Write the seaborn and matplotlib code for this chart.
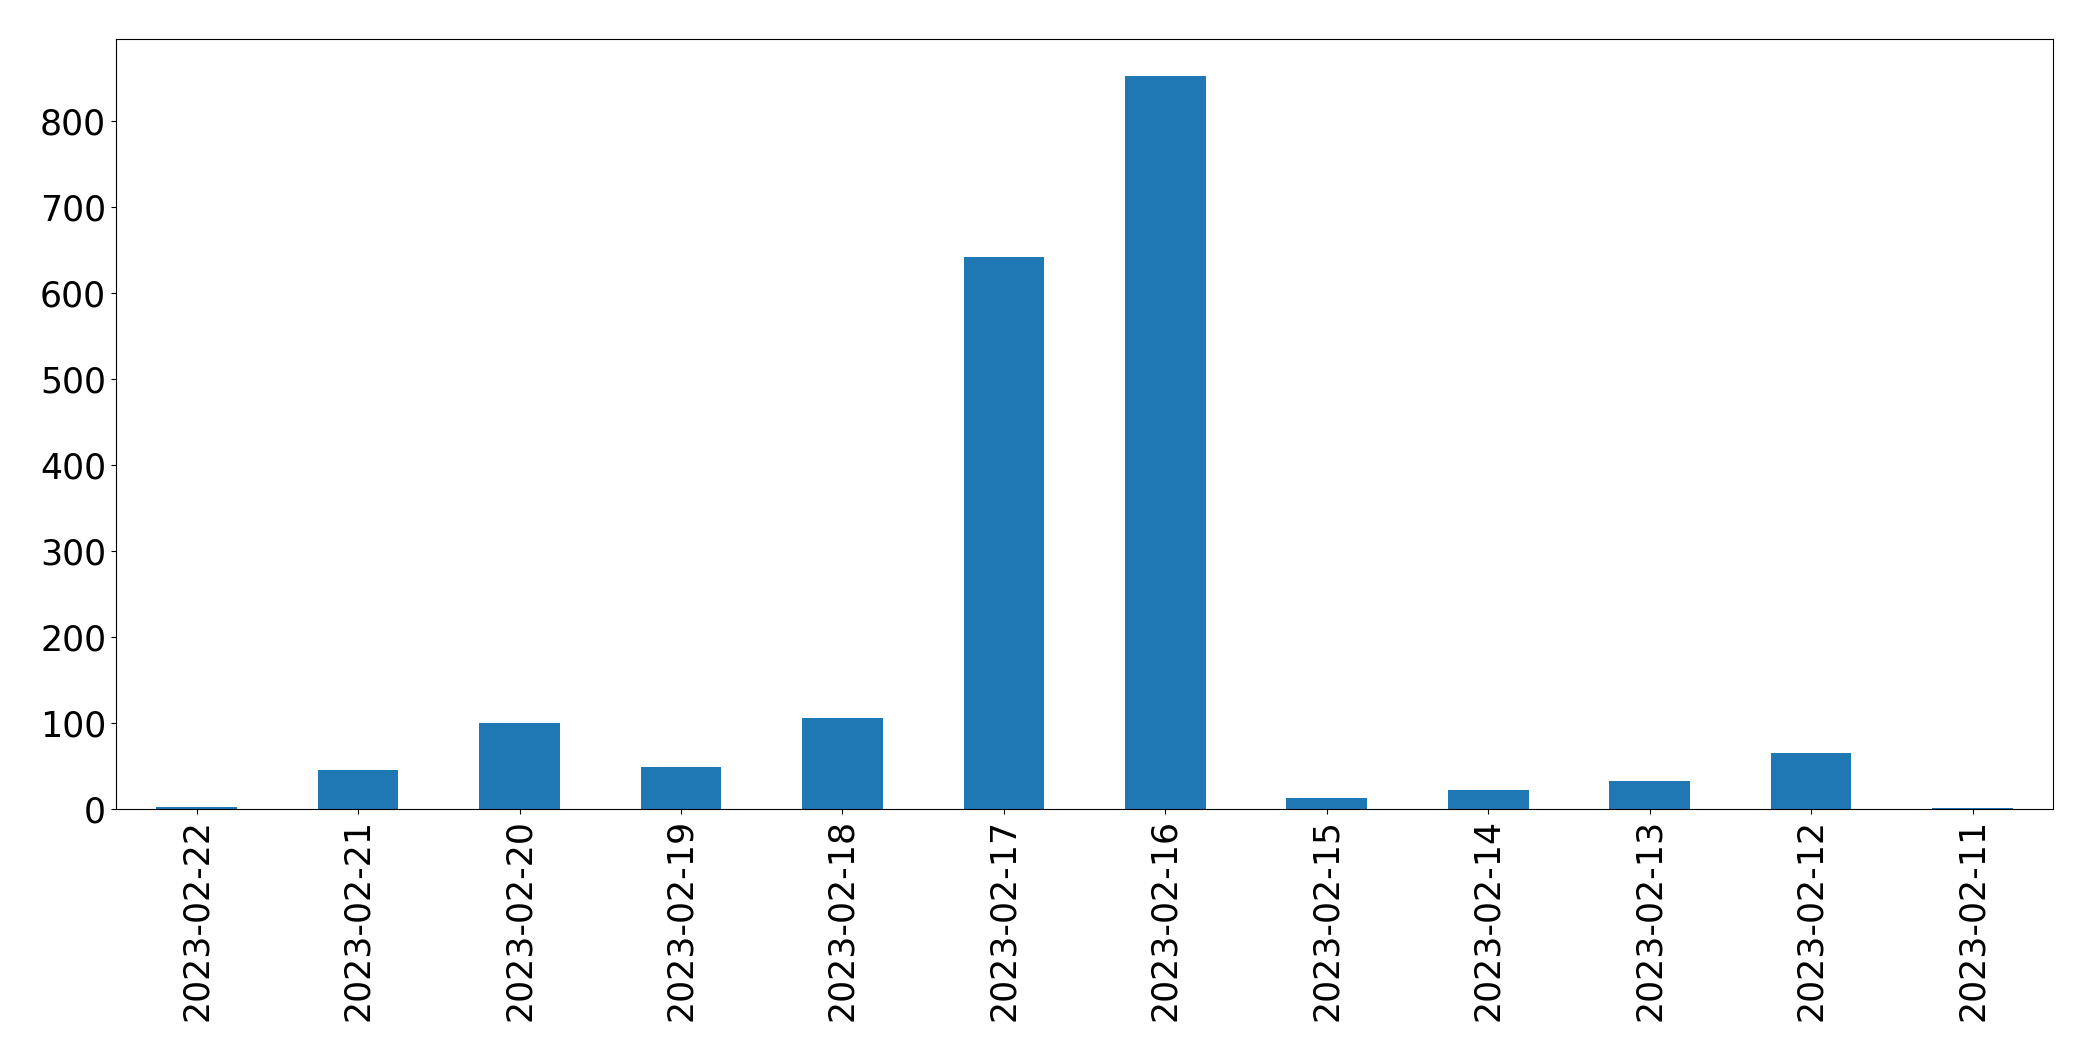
import matplotlib
matplotlib.use('Agg')
import matplotlib.pyplot as plt
import seaborn as sns
import pandas as pd

dates = ['2023-02-22', '2023-02-21', '2023-02-20', '2023-02-19', '2023-02-18',
         '2023-02-17', '2023-02-16', '2023-02-15', '2023-02-14', '2023-02-13',
         '2023-02-12', '2023-02-11']
counts = [2, 45, 100, 49, 106, 641, 852, 13, 22, 33, 65, 1]

df = pd.DataFrame({'date': dates, 'count': counts})

fig, ax = plt.subplots(figsize=(20.93, 10.61), dpi=100)
sns.barplot(data=df, x='date', y='count', order=dates, color='#1f77b4',
            saturation=1, width=0.5, ax=ax)

ax.set_xlabel('')
ax.set_ylabel('')
ax.set_xlim(-0.5, len(dates) - 0.5)
ax.set_ylim(0, max(counts) * 1.05)
ax.tick_params(axis='both', labelsize=25)
ax.tick_params(axis='x', rotation=90)
for spine in ax.spines.values():
    spine.set_edgecolor('black')

plt.subplots_adjust(left=0.0554, right=0.981, top=0.963, bottom=0.2375)
plt.savefig('out.png', dpi=100)
plt.close()
